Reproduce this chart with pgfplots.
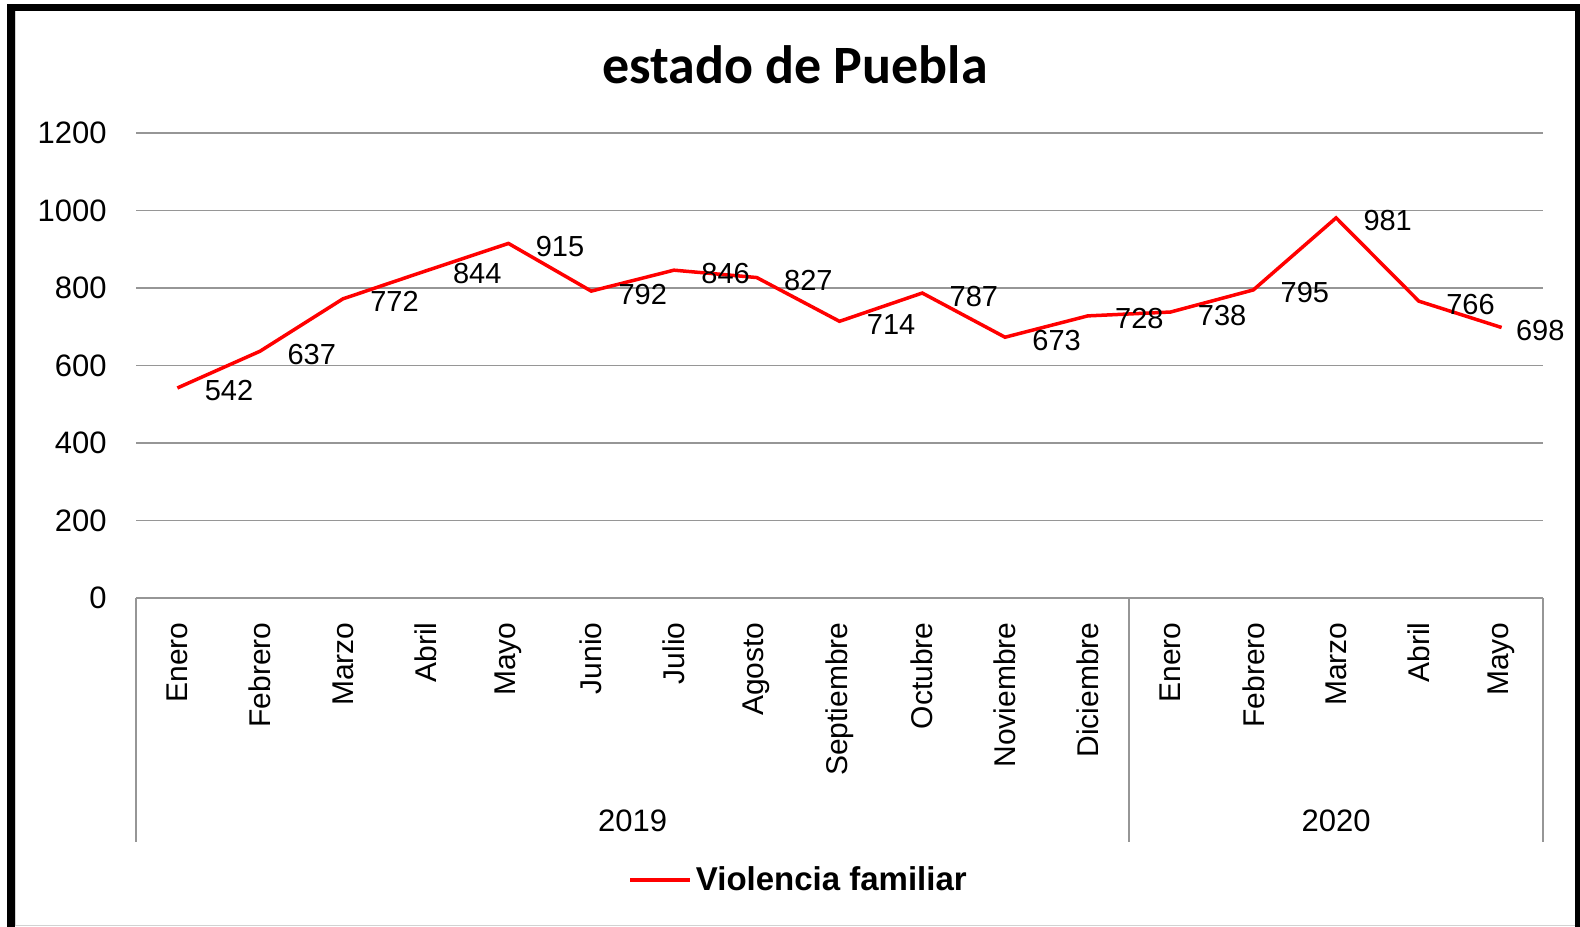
\documentclass[border=0pt]{standalone}
\usepackage{fontspec}
\setmainfont{Liberation Sans}
\newfontfamily\titlefont{Carlito}
\usepackage{pgfplots}
\pgfplotsset{compat=1.18}
\definecolor{gridgray}{RGB}{150,150,150}
\definecolor{lred}{RGB}{255,0,0}

\begin{document}
\begin{tikzpicture}
\useasboundingbox (0,0) rectangle (790bp,463.5bp);
\draw[gray!35, line width=0.5bp] (7.5bp,1bp) rectangle (788bp,458bp);
\draw[black, line width=3.75bp] (5.5bp,-3bp) -- (5.5bp,459.75bp) -- (789.5bp,459.75bp) -- (789.5bp,-3bp);
\begin{axis}[
  at={(68bp,164.5bp)}, anchor=south west,
  scale only axis, width=703.5bp, height=232.5bp,
  xmin=-0.5, xmax=16.5, ymin=0, ymax=1200,
  ytick={0,200,400,600,800,1000,1200},
  xtick={0,1,2,3,4,5,6,7,8,9,10,11,12,13,14,15,16},
  xticklabels={Enero,Febrero,Marzo,Abril,Mayo,Junio,Julio,Agosto,Septiembre,Octubre,Noviembre,Diciembre,Enero,Febrero,Marzo,Abril,Mayo},
  axis x line*=bottom, axis y line*=left,
  x axis line style={gridgray, line width=0.75bp, -},
  y axis line style={draw=none},
  major tick length=0pt,
  xticklabel style={rotate=90, anchor=east, inner sep=0pt, font=\fontsize{15bp}{18bp}\selectfont},
  xticklabel shift=12bp,
  yticklabel style={inner sep=0pt, font=\fontsize{15.5bp}{18bp}\selectfont},
  yticklabel shift=14.5bp,
  ymajorgrids, grid style={gridgray, line width=0.75bp},
  /pgf/number format/1000 sep={},
  /pgf/number format/assume math mode=true,
  clip=false,
  legend style={at={(axis description cs:0.3497,-0.6065)}, anchor=west, draw=none, fill=none, inner sep=0pt,
    font=\bfseries\fontsize{16.5bp}{20bp}\selectfont},
  legend image code/.code={\draw[lred, line width=1.75bp] (0bp,0bp) -- (30bp,0bp);},
]
\addplot[lred, line width=1.75bp, mark=none]
  coordinates {
  (0,542) (1,637) (2,772) (3,844) (4,915) (5,792) (6,846) (7,827) (8,714)
  (9,787) (10,673) (11,728) (12,738) (13,795) (14,981) (15,766) (16,698)
  };
\addlegendentry{Violencia familiar}
\addplot[draw=none, mark=none, forget plot,
  nodes near coords, nodes near coords align={anchor=west},
  every node near coord/.append style={font=\fontsize{14.5bp}{17bp}\selectfont, inner sep=0pt, xshift=13.5bp, yshift=-1.5bp, text=black}]
  coordinates {
  (0,542) (1,637) (2,772) (3,844) (4,915) (5,792) (6,846) (7,827) (8,714)
  (9,787) (10,673) (11,728) (12,738) (13,795) (14,981) (15,766)
  };
\addplot[draw=none, mark=none, forget plot,
  nodes near coords, nodes near coords align={anchor=west},
  every node near coord/.append style={font=\fontsize{14.5bp}{17bp}\selectfont, inner sep=0pt, xshift=7bp, yshift=-1.5bp, text=black}]
  coordinates {(16,698)};
\draw[gridgray, line width=0.75bp] (axis cs:-0.5,0) -- (axis cs:-0.5,-629.7);
\draw[gridgray, line width=0.75bp] (axis cs:11.5,0) -- (axis cs:11.5,-629.7);
\draw[gridgray, line width=0.75bp] (axis cs:16.5,0) -- (axis cs:16.5,-629.7);
\node[font=\fontsize{15.5bp}{18bp}\selectfont] at (axis cs:5.5,-575.5) {2019};
\node[font=\fontsize{15.5bp}{18bp}\selectfont] at (axis cs:14,-575.5) {2020};
\node[font=\titlefont\bfseries\fontsize{27bp}{32bp}\selectfont, anchor=base] at (axis description cs:0.4684,1.1075) {estado de Puebla};
\end{axis}
\end{tikzpicture}
\end{document}
